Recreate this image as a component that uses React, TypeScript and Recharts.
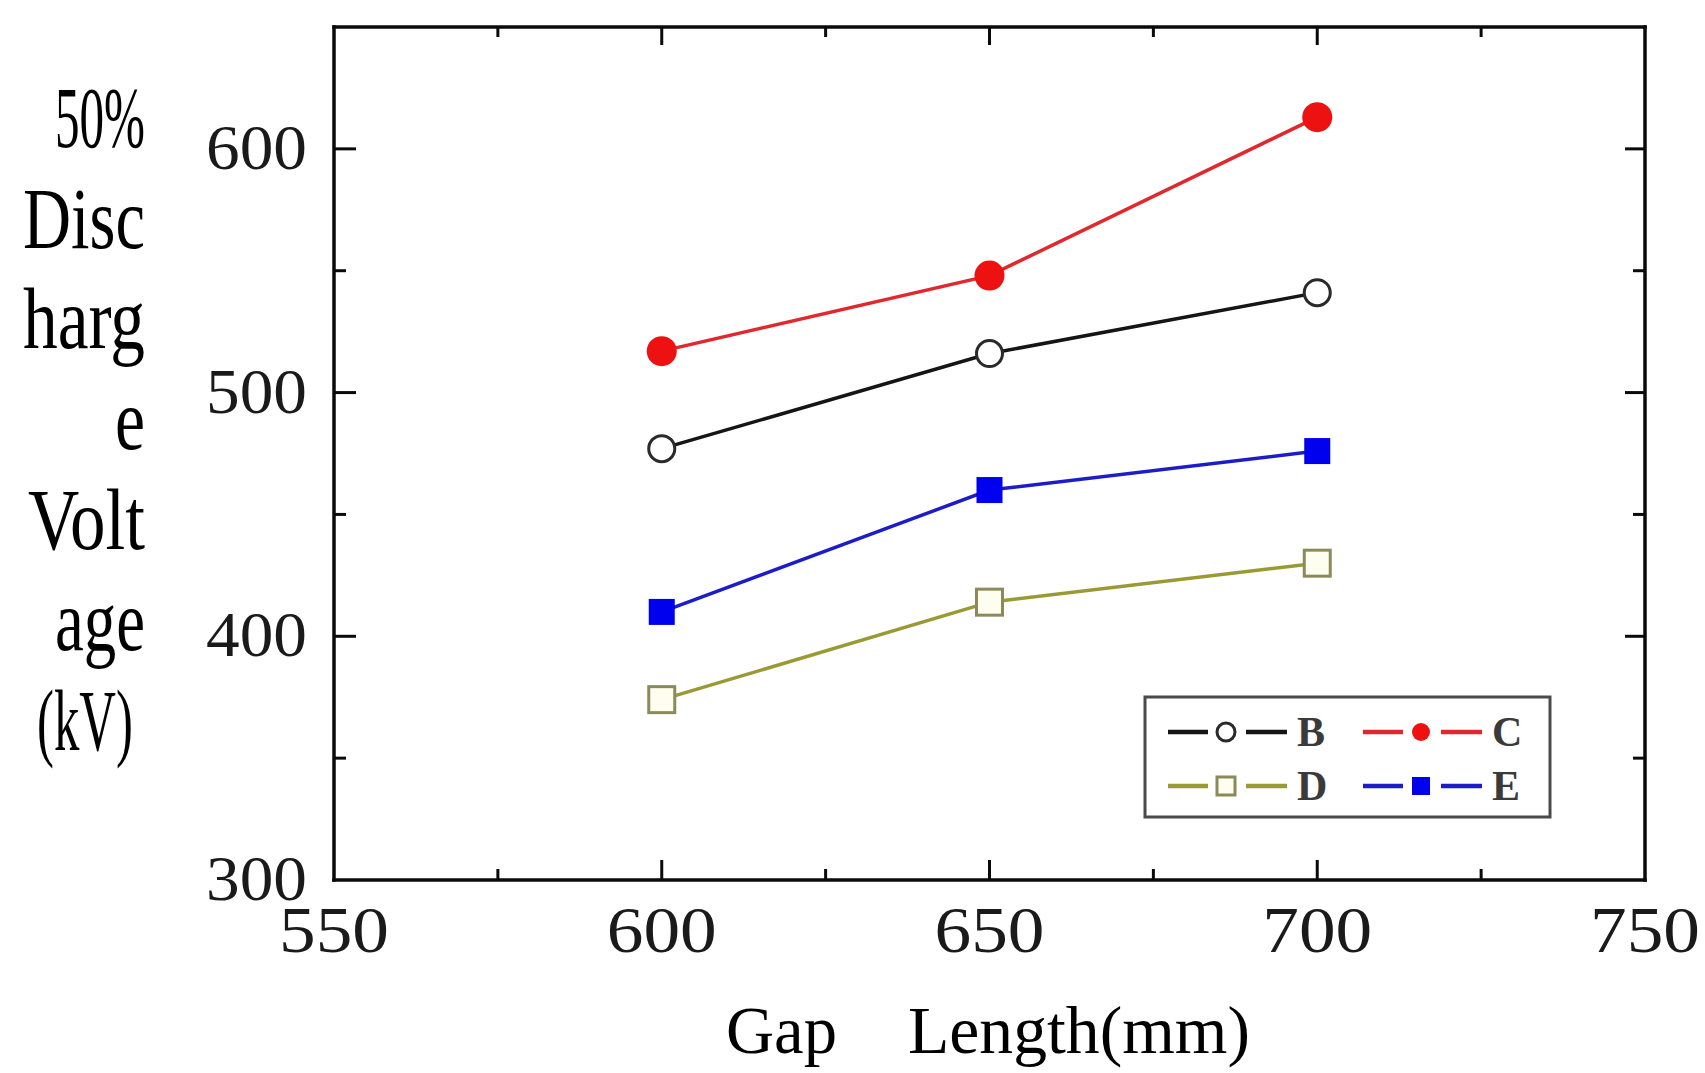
import React from 'react';
import { LineChart, Line, XAxis, YAxis, Legend } from 'recharts';

// ---- data ----
const gapLengths = [600, 650, 700];
const seriesB = [477, 516, 541];
const seriesC = [517, 548, 613];
const seriesD = [374, 414, 430];
const seriesE = [410, 460, 476];
const seriesNames = ['B', 'C', 'D', 'E'];
const xTicks = [550, 575, 600, 625, 650, 675, 700, 725, 750];
const yTicks = [300, 350, 400, 450, 500, 550, 600, 650];
const yLabelLines = ['50%', 'Disc', 'harg', 'e', 'Volt', 'age', '(kV)'];
const xTitleParts = ['Gap', 'Length(mm)'];

const data = gapLengths.map((x, i) => ({
  x,
  B: seriesB[i],
  C: seriesC[i],
  D: seriesD[i],
  E: seriesE[i],
}));

// ---- styles ----
type SStyle = { stroke: string; marker: 'circle' | 'square'; fill: string; mstroke: string };
const STYLE: Record<string, SStyle> = {
  B: { stroke: '#151515', marker: 'circle', fill: '#ffffff', mstroke: '#2a2a2a' },
  C: { stroke: '#e0282e', marker: 'circle', fill: '#ee1111', mstroke: '#ee1111' },
  D: { stroke: '#9a9a34', marker: 'square', fill: '#fdfdf0', mstroke: '#8a8a5a' },
  E: { stroke: '#1d1dc8', marker: 'square', fill: '#0000ee', mstroke: '#0000ee' },
};

const SERIF = '"Liberation Serif", "Times New Roman", serif';
const AX = '#0a0a0a';
const axisLineStyle = { stroke: AX, strokeWidth: 3.5, strokeLinecap: 'square' as const };

const Marker = ({ cx, cy, s, size, sw }: { cx: number; cy: number; s: SStyle; size: number; sw: number }) =>
  s.marker === 'circle' ? (
    <circle cx={cx} cy={cy} r={size} fill={s.fill} stroke={s.mstroke} strokeWidth={sw} />
  ) : (
    <rect x={cx - size} y={cy - size} width={size * 2} height={size * 2} fill={s.fill} stroke={s.mstroke} strokeWidth={sw} />
  );

// bottom x ticks: inward tick + label
const BottomTick = (p: any) => {
  const { x, y, payload } = p;
  const v = payload.value;
  const major = v % 50 === 0;
  const edge = v === 550 || v === 750;
  return (
    <g>
      {!edge && <line x1={x} x2={x} y1={y} y2={y - (major ? 20 : 11)} stroke={AX} strokeWidth={3} />}
      {major && (
        <text x={x - 55} y={y + 72} fontFamily={SERIF} fontSize={65} fill="#1a1a1a" textLength={110} lengthAdjust="spacingAndGlyphs">
          {v}
        </text>
      )}
    </g>
  );
};
const TopTick = (p: any) => {
  const { x, y, payload } = p;
  const v = payload.value;
  const major = v % 50 === 0;
  if (v === 550 || v === 750) return <g />;
  return <line x1={x} x2={x} y1={y} y2={y + (major ? 18 : 10)} stroke={AX} strokeWidth={3} />;
};
const LeftTick = (p: any) => {
  const { x, y, payload } = p;
  const v = payload.value;
  const major = v % 100 === 0;
  const edge = v === 300 || v === 650;
  return (
    <g>
      {!edge && <line x1={x} x2={x + (major ? 22 : 12)} y1={y} y2={y} stroke={AX} strokeWidth={3} />}
      {major && (
        <text x={x - 128} y={y + 20} fontFamily={SERIF} fontSize={64} fill="#1a1a1a" textLength={101} lengthAdjust="spacingAndGlyphs">
          {v}
        </text>
      )}
    </g>
  );
};
const RightTick = (p: any) => {
  const { x, y, payload } = p;
  const v = payload.value;
  const major = v % 100 === 0;
  if (v === 300 || v === 650) return <g />;
  return <line x1={x} x2={x - (major ? 20 : 12)} y1={y} y2={y} stroke={AX} strokeWidth={3} />;
};

// y title: stacked lines, right aligned at x=145
const yLineGeom = [
  { x: 55, w: 90 },
  { x: 23, w: 122 },
  { x: 23, w: 122 },
  { x: 115, w: 30 },
  { x: 28, w: 117 },
  { x: 55, w: 90 },
  { x: 37, w: 96 },
];
const YTitle = () => (
  <g>
    {yLabelLines.map((t, i) => (
      <text
        key={t}
        x={yLineGeom[i].x}
        y={147 + i * 100.5}
        fontFamily={SERIF}
        fontSize={86}
        fill="#000"
        textLength={yLineGeom[i].w}
        lengthAdjust="spacingAndGlyphs"
      >
        {t}
      </text>
    ))}
  </g>
);

const XTitle = () => (
  <text y={1053} fontFamily={SERIF} fontSize={67} fill="#000">
    <tspan x={726} textLength={111} lengthAdjust="spacingAndGlyphs">{xTitleParts[0]}</tspan>
    <tspan> </tspan>
    <tspan x={908} textLength={342} lengthAdjust="spacingAndGlyphs">{xTitleParts[1]}</tspan>
  </text>
);

const LegendBox = () => (
  <svg width={420} height={135} style={{ display: 'block' }}>
    <rect x={5} y={7} width={405} height={120} fill="#fff" stroke="#4a4a4a" strokeWidth={3} />
    {seriesNames.map((n, i) => {
      const s = STYLE[n];
      const col = i % 2;
      const row = Math.floor(i / 2);
      const x0 = 28 + col * 195;
      const cy = 42 + row * 54;
      return (
        <g key={n}>
          <line x1={x0} x2={x0 + 40} y1={cy} y2={cy} stroke={s.stroke} strokeWidth={4.5} />
          <line x1={x0 + 78} x2={x0 + 119} y1={cy} y2={cy} stroke={s.stroke} strokeWidth={4.5} />
          <Marker cx={x0 + 58} cy={cy} s={s} size={9} sw={s.fill === s.mstroke ? 0 : 3} />
          <text x={x0 + 129} y={cy + 14} fontFamily={SERIF} fontSize={42} fontWeight="bold" fill="#3a3a3a">
            {n}
          </text>
        </g>
      );
    })}
  </svg>
);

export default function App() {
  return (
    <div style={{ position: 'absolute', left: 0, top: 0, width: 1705, height: 1073, background: '#fff' }}>
      <LineChart width={1705} height={1073} data={data} margin={{ top: 17, right: 50, bottom: 183, left: 234 }}>
        <XAxis
          xAxisId="b"
          dataKey="x"
          type="number"
          domain={[550, 750]}
          ticks={xTicks}
          interval={0}
          height={10}
          tickSize={0}
          tickMargin={0}
          tickLine={false}
          axisLine={axisLineStyle}
          tick={(p: any) => <BottomTick {...p} />}
          allowDataOverflow
          label={{ content: () => <XTitle /> }}
        />
        <XAxis
          xAxisId="t"
          orientation="top"
          dataKey="x"
          type="number"
          domain={[550, 750]}
          ticks={xTicks}
          interval={0}
          height={10}
          tickSize={0}
          tickMargin={0}
          tickLine={false}
          axisLine={axisLineStyle}
          tick={(p: any) => <TopTick {...p} />}
          allowDataOverflow
        />
        <YAxis
          yAxisId="l"
          type="number"
          domain={[300, 650]}
          ticks={yTicks}
          interval={0}
          width={100}
          tickSize={0}
          tickMargin={0}
          tickLine={false}
          axisLine={axisLineStyle}
          tick={(p: any) => <LeftTick {...p} />}
          allowDataOverflow
          label={{ content: () => <YTitle /> }}
        />
        <YAxis
          yAxisId="r"
          orientation="right"
          type="number"
          domain={[300, 650]}
          ticks={yTicks}
          interval={0}
          width={10}
          tickSize={0}
          tickMargin={0}
          tickLine={false}
          axisLine={axisLineStyle}
          tick={(p: any) => <RightTick {...p} />}
          allowDataOverflow
        />
        {seriesNames.map((n) => {
          const s = STYLE[n];
          return (
            <Line
              key={n}
              xAxisId="b"
              yAxisId="l"
              dataKey={n}
              name={n}
              stroke={s.stroke}
              strokeWidth={3.5}
              isAnimationActive={false}
              dot={(p: any) => (
                <Marker
                  key={`${n}-${p.index}`}
                  cx={p.cx}
                  cy={p.cy}
                  s={s}
                  size={s.marker === 'circle' ? (s.fill === s.mstroke ? 15 : 13) : 13}
                  sw={s.fill === s.mstroke ? 0 : 3}
                />
              )}
              activeDot={false}
            />
          );
        })}
        <Legend
          layout="vertical"
          align="center"
          verticalAlign="middle"
          wrapperStyle={{ left: 1140, top: 690, width: 420, height: 135 }}
          content={() => <LegendBox />}
        />
      </LineChart>
    </div>
  );
}
